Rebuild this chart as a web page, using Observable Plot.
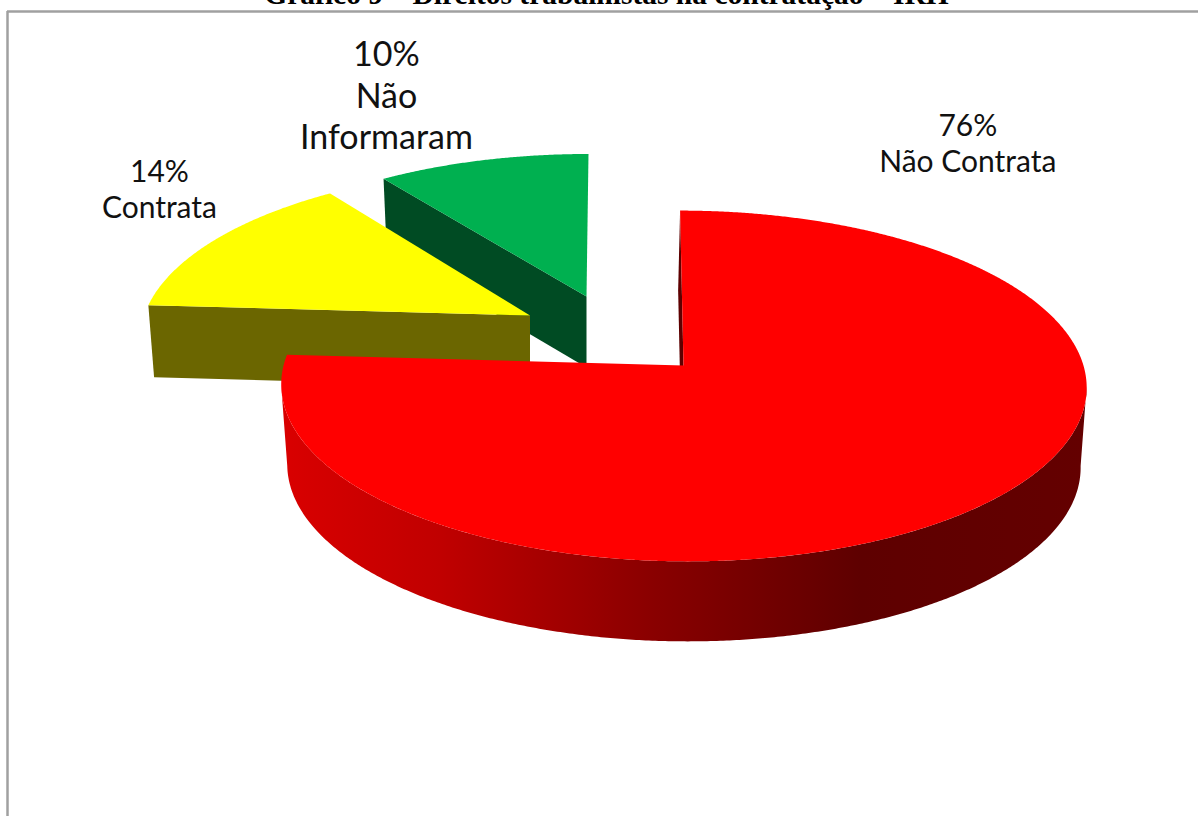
<!DOCTYPE html>
<html>
<head>
<meta charset="utf-8">
<style>
html,body{margin:0;padding:0;background:#fff;overflow:hidden}
svg{display:block}
</style>
<script src="https://cdn.jsdelivr.net/npm/d3@7"></script>
<script src="https://cdn.jsdelivr.net/npm/@observablehq/plot@0.6"></script>
</head>
<body>
<div id="chart"></div>
<script>
// Data
const categories = ["Não Contrata", "Contrata", "Não Informaram"];
const shares = [76, 14, 10];
const labelTexts = ["76%\nNão Contrata", "14%\nContrata", "10%\nNão\nInformaram"];
const chartTitle = "Gráfico 9 – Direitos trabalhistas na contratação – IRH";

// Styles
const topColors = ["#ff0000", "#ffff00", "#00b050"];
const wallColors = ["#5e0000", "#6b6600", "#004b23"];
const sideStops = [290, 440, 650, 860, 1085];
const sideShades = ["#d80000", "#c00000", "#8a0000", "#5e0000", "#640000"];

// 3D pie layout (perspective disk, exploded slices)
const W = 1198, H = 816;
const persp = 0.1168, radX = 404, radY = 173, taper = 0.985;
const apexes = [
  {x: 683, y: 365, sx: 0.99, s: 1, skew: 0.022, depth: 80},
  {x: 529.5, y: 315, sx: 1, s: 0.955, skew: -0.06, depth: 72},
  {x: 586, y: 296, sx: 1.025, s: 0.92, skew: -0.014, depth: 71}
];
const labelOffsets = [
  {dx: -18, dy: -361, lh: 1.2, size: 30},
  {dx: -55, dy: -52, lh: 1.2, size: 30},
  {dx: -96, dy: -66, lh: 1.22, size: 34}
];
const font = "Lato, sans-serif";

const arcs = d3.pie().sort(null)(shares);

function rim(i, t) {
  const a = apexes[i], u = Math.sin(t), v = Math.cos(t), d = 1 + persp * v;
  const y = a.y - radY * a.s * v / d;
  return {x: a.x + radX * a.s * a.sx * u / d + a.skew * (y - a.y), y};
}
const lower = (i, p) => ({x: apexes[i].x + (p.x - apexes[i].x) * taper, y: p.y + apexes[i].depth});

function face(i) {
  const a = arcs[i], n = Math.ceil((a.endAngle - a.startAngle) / 0.005), pts = [{x: apexes[i].x, y: apexes[i].y}];
  for (let k = 0; k <= n; k++) pts.push(rim(i, a.startAngle + (a.endAngle - a.startAngle) * k / n));
  return pts.map(p => ({...p, id: "top" + i, color: topColors[i]}));
}
function radialWall(i, t, shift = 0) {
  const apex = {x: apexes[i].x, y: apexes[i].y}, p = rim(i, t);
  const lo = q => { const r = lower(i, q); return {x: r.x + shift, y: r.y}; };
  return [apex, p, lo(p), lo(apex)].map(q => ({...q, id: "wall" + i, color: wallColors[i]}));
}
function sideWall() {
  // the visible wall runs between the two silhouette tangents of the perspective disk
  const from = Math.acos(-persp), to = 2 * Math.PI - from, n = 400, up = [];
  for (let k = 0; k <= n; k++) up.push(rim(0, from + (to - from) * k / n));
  return [...up, ...up.slice().reverse().map(p => lower(0, p))];
}
function gradientDefs() {
  const defs = d3.create("svg:defs");
  const g = defs.append("linearGradient").attr("id", "sideGrad").attr("gradientUnits", "userSpaceOnUse")
    .attr("x1", sideStops[0]).attr("x2", sideStops[sideStops.length - 1]).attr("y1", 0).attr("y2", 0);
  sideStops.forEach((s, i) => g.append("stop")
    .attr("offset", (s - sideStops[0]) / (sideStops[sideStops.length - 1] - sideStops[0]))
    .attr("stop-color", sideShades[i]));
  return defs.node();
}

const poly = (data, extra = {}) => Plot.line(data, {x: "x", y: "y", z: "id", fill: "color", stroke: "none", curve: "linear", ...extra});

const labelMarks = arcs.map((a, i) => {
  const mid = rim(i, (a.startAngle + a.endAngle) / 2), o = labelOffsets[i];
  return Plot.text([{x: mid.x, y: mid.y, t: labelTexts[i]}], {
    x: "x", y: "y", text: "t", dx: o.dx, dy: o.dy, lineHeight: o.lh,
    fontFamily: font, fontSize: o.size, fill: "#111", textAnchor: "middle", lineAnchor: "middle"
  });
});

const chart = Plot.plot({
  width: W, height: H,
  marginTop: 0, marginRight: 0, marginBottom: 0, marginLeft: 0,
  x: {domain: [0, W], range: [0, W], axis: null},
  y: {domain: [0, H], range: [0, H], axis: null},
  color: {type: "identity"},
  style: {background: "#fff", overflow: "hidden"},
  marks: [
    gradientDefs,
    Plot.text([chartTitle], {x: () => 606, y: () => 3, text: d => d, fontFamily: "'Liberation Serif', serif", fontWeight: "bold", fontSize: 29.5, lineAnchor: "bottom", fill: "#000"}),
    Plot.ruleY([11], {x1: 7, x2: W, stroke: "#a0a0a0", strokeWidth: 2.5}),
    Plot.ruleX([7], {y1: 11, y2: H, stroke: "#a0a0a0", strokeWidth: 2.5}),
    poly(radialWall(2, arcs[2].startAngle)),
    poly(face(2)),
    poly(radialWall(1, arcs[1].startAngle)),
    poly(face(1)),
    poly(radialWall(0, 0, -2)),
    Plot.line(sideWall(), {x: "x", y: "y", fill: "url(#sideGrad)", stroke: "none", curve: "linear"}),
    poly(face(0)),
    ...labelMarks
  ]
});
document.getElementById("chart").append(chart);
</script>
</body>
</html>
